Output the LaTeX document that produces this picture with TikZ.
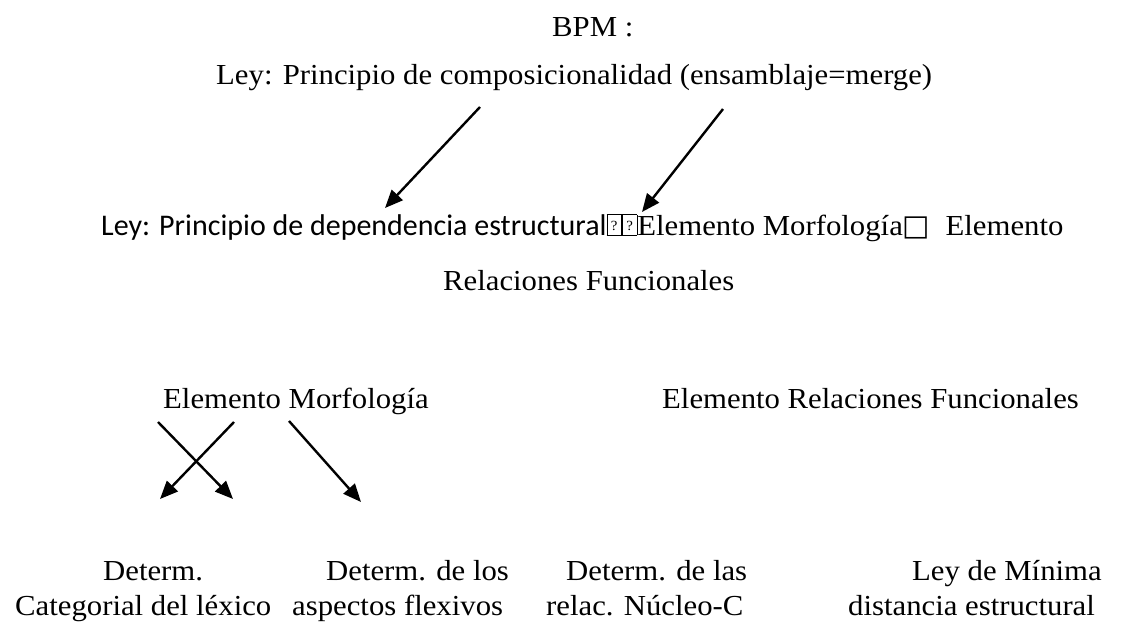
\documentclass[tikz,border=0pt]{standalone}
\usepackage{fontspec}
\setmainfont{Liberation Serif}[FakeStretch=1.06]
\newfontfamily\calibri{Carlito}
\newfontfamily\symfont{DejaVu Sans}
\usetikzlibrary{arrows.meta}

\newcommand{\qbox}{{\setlength{\fboxsep}{0pt}\setlength{\fboxrule}{0.7pt}%
  \fbox{\makebox[14pt]{\rule{0pt}{20pt}\raisebox{5pt}{\fontsize{14}{14}\selectfont ?}}}}}

\begin{document}
\begin{tikzpicture}[x=1pt,y=-1pt,
    txt/.style={inner sep=0pt, anchor=base west, font=\fontsize{29}{35}\selectfont},
    arr/.style={line width=2.4pt,-{Triangle[length=18pt,width=15pt]}}]
  \useasboundingbox (0,0) rectangle (1129,635);

  % top
  \node[txt] (bpm)  at (552,36) {BPM :};
  \node[txt] (comp) at (216,84) {Ley: Principio de composicionalidad (ensamblaje=merge)};

  \coordinate (c1) at (480,107);
  \coordinate (c2) at (723,109);
  \coordinate (d1) at (385,208);
  \coordinate (d2) at (642,212);
  \draw[arr] (c1) -- (d1);
  \draw[arr] (c2) -- (d2);

  % second level
  \node[txt] (dep) at (101,235) {{\calibri\fontsize{30}{35}\selectfont Ley: Principio de dependencia estructural}\qbox\qbox Elemento Morfología{\symfont □}\ \ Elemento};
  \node[txt] (rel) at (443,290) {Relaciones Funcionales};

  % third level
  \node[txt] (morf) at (163,408) {Elemento Morfología};
  \node[txt] (func) at (662,408) {Elemento Relaciones Funcionales};

  \coordinate (m1) at (158,422);
  \coordinate (m2) at (234,422);
  \coordinate (m3) at (289,421);
  \coordinate (n1) at (233,499);
  \coordinate (n2) at (160,499);
  \coordinate (n3) at (361,502);
  \draw[arr] (m1) -- (n1);
  \draw[arr] (m2) -- (n2);
  \draw[arr] (m3) -- (n3);

  % bottom
  \node[txt] (catA) at (103,580) {Determ.};
  \node[txt] (catB) at (15,615)  {Categorial del léxico};
  \node[txt] (flxA) at (326,580) {Determ. de los};
  \node[txt] (flxB) at (292,615) {aspectos flexivos};
  \node[txt] (nucA) at (566,580) {Determ. de las};
  \node[txt] (nucB) at (546,615) {relac. Núcleo-C};
  \node[txt] (minA) at (912,580) {Ley de Mínima};
  \node[txt] (minB) at (848,615) {distancia estructural};
\end{tikzpicture}
\end{document}
